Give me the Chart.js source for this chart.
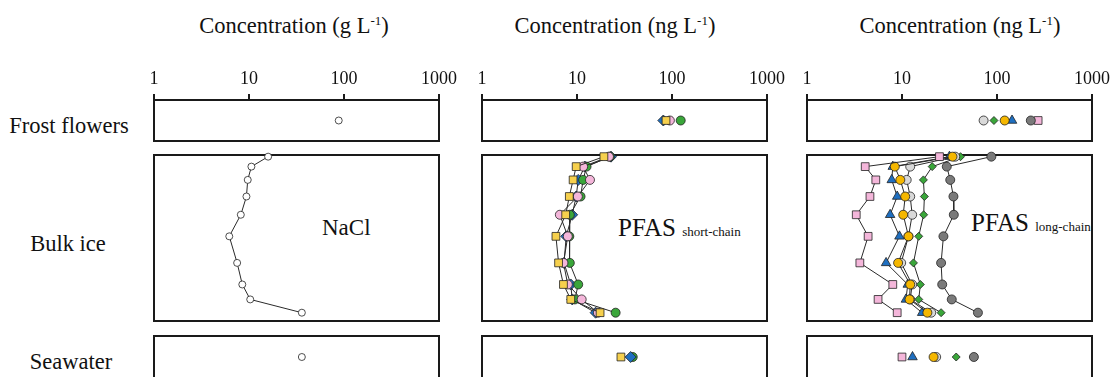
<!DOCTYPE html>
<html>
<head>
<meta charset="utf-8">
<script src="https://cdn.jsdelivr.net/npm/chart.js@4.4.0/dist/chart.umd.min.js"></script>
<style>
  body { margin: 0; width: 1110px; height: 377px; overflow: hidden; position: relative; background: #fff;
         font-family: "Liberation Serif", "DejaVu Serif", serif; color: #111; }
  canvas { position: absolute; }
  .txt { position: absolute; white-space: nowrap; line-height: 1; transform: translate(-50%, -50%); }
  .title { font-size: 22.5px; }
  .row { font-size: 22.5px; }
  .tag { position: absolute; white-space: nowrap; line-height: 1; font-size: 25px; }
  .tag small { font-size: 13px; }
  sup { font-size: 13px; vertical-align: 8px; line-height: 0; }
</style>
</head>
<body>
<div class="txt title" style="left:294px;top:26px">Concentration (g L<sup>-1</sup>)</div>
<div class="txt title" style="left:615px;top:26px">Concentration (ng L<sup>-1</sup>)</div>
<div class="txt title" style="left:960px;top:26px">Concentration (ng L<sup>-1</sup>)</div>

<div class="txt row" style="left:69px;top:126px">Frost flowers</div>
<div class="txt row" style="left:68px;top:244px">Bulk ice</div>
<div class="txt row" style="left:71px;top:362px">Seawater</div>

<div class="tag" style="left:322px;top:216px;font-size:23px">NaCl</div>
<div class="tag" style="left:618px;top:215px">PFAS <small>short-chain</small></div>
<div class="tag" style="left:971px;top:210px">PFAS <small>long-chain</small></div>

<script>
// relative depth in the ice core (hidden y axis), top to bottom
const depthPct = [1, 7, 15, 25, 36, 49, 65, 78, 87, 95];
const axisTicks = [1, 10, 100, 1000];

// NaCl (g/L)
const naclFrost = [88];
const naclBulk = [15.9, 10.6, 9.7, 9.4, 8.2, 6.2, 7.5, 8.5, 10.3, 36];
const naclSea = [36];

// PFAS short-chain (ng/L)
const scYellowBulk = [19.2, 9.8, 9.1, 8.3, 7.6, 6.0, 6.4, 7.2, 8.6, 17.5];
const scPinkBulk   = [21.7, 11.6, 13.7, 10.2, 6.6, 8.0, 7.2, 8.0, 11.2, 16.6];
const scGreenBulk  = [22.2, 12.6, 11.6, 10.9, 8.4, 8.3, 8.4, 10.3, 9.5, 25.5];
const scBlueBulk   = [22.8, 12.1, 10.3, 9.8, 8.9, 7.7, 7.3, 8.6, 8.9, 15.7];
const scFrost = { yellow: 86.5, pink: 95, green: 123.5, blue: 81 };
const scSea   = { yellow: 29, blue: 36.7, green: 38.6 };

// PFAS long-chain (ng/L)
const lcPinkBulk   = [24.8, 4.1, 5.3, 4.6, 3.3, 4.4, 3.6, 8.0, 5.6, 8.9];
const lcBlueBulk   = [31.6, 8.0, 7.8, 8.9, 7.5, 9.4, 6.8, 11.5, 11.0, 16.3];
const lcOrangeBulk = [34, 8.4, 9.6, 10.8, 10.3, 11.7, 9.1, 12.2, 12.0, 18.5];
const lcLightBulk  = [36.3, 12.2, 11.2, 12.2, 12.8, 11.7, 9.8, 12.8, 12.2, 20.3];
const lcGreenBulk  = [41.3, 20.8, 16.8, 17.2, 16.9, 15.0, 13.2, 15.6, 15.0, 25.8];
const lcDarkBulk   = [87.2, 29.6, 32.2, 34.8, 35.1, 27.3, 25.8, 26.5, 33.4, 63];
const lcFrost = { light: 72.3, green: 92.9, orange: 120.5, blue: 144, dark: 227, pink: 271 };
const lcSea   = { pink: 10.0, blue: 12.9, orange: 21.5, light: 22.9, green: 37.2, dark: 57.1 };

// marker styles
const styles = {
  nacl:   { color: '#ffffff', shape: 'circle', r: 3.5 },
  yellow: { color: '#F6D04D', shape: 'rect', r: 5.5 },
  pink:   { color: '#F4B6DA', shape: 'circle', r: 4.5 },
  pinkSq: { color: '#F4B6DA', shape: 'rect', r: 5.5 },
  green:  { color: '#3AA63A', shape: 'circle', r: 4.5 },
  greenD: { color: '#3AA63A', shape: 'rectRot', r: 4 },
  blue:   { color: '#1F6FC0', shape: 'rectRot', r: 5.5 },
  blueT:  { color: '#1F6FC0', shape: 'triangle', r: 5.5 },
  orange: { color: '#F5B700', shape: 'circle', r: 4.5 },
  light:  { color: '#D9D9D9', shape: 'circle', r: 4.5 },
  dark:   { color: '#7A7A7A', shape: 'circle', r: 4.5 }
};

const colLefts = [154, 482, 807];
const boxW = 285;
const PAD = 30;

const framePlugin = {
  id: 'frame',
  beforeDatasetsDraw(chart) {
    const { ctx, chartArea: a } = chart;
    ctx.save();
    ctx.lineWidth = 2;
    ctx.strokeStyle = '#1a1a1a';
    ctx.strokeRect(a.left, a.top, a.right - a.left, a.bottom - a.top);
    ctx.restore();
  }
};

function ds(st, data, line) {
  const s = styles[st];
  return {
    data: data,
    showLine: line,
    borderColor: '#2a2a2a',
    borderWidth: 1,
    pointStyle: s.shape,
    pointRadius: s.r,
    pointBackgroundColor: s.color,
    pointBorderColor: '#222',
    pointBorderWidth: 0.8,
    clip: false
  };
}

function profile(vals) {
  return depthPct.map((d, i) => ({ x: vals[i], y: d }));
}
function single(v) {
  return [{ x: v, y: 0.5 }];
}

function makePanel(col, top, height, withAxis, reverseDepth, datasets) {
  const c = document.createElement('canvas');
  c.width = boxW + 2 * PAD;
  c.height = height;
  c.style.left = (colLefts[col] - PAD) + 'px';
  c.style.top = top + 'px';
  document.body.appendChild(c);
  new Chart(c.getContext('2d'), {
    type: 'scatter',
    data: { datasets: datasets },
    options: {
      responsive: false,
      animation: false,
      events: [],
      layout: { autoPadding: false, padding: { left: PAD, right: PAD, top: 10, bottom: 10 } },
      plugins: { legend: { display: false }, tooltip: { enabled: false } },
      scales: {
        x: {
          type: 'logarithmic',
          position: 'top',
          display: withAxis,
          min: 1,
          max: 1000,
          afterBuildTicks: s => { s.ticks = axisTicks.map(v => ({ value: v })); },
          afterFit: s => { s.height = withAxis ? 40 : 0; },
          grid: { drawOnChartArea: false, drawTicks: true, tickLength: 6, color: '#1a1a1a', lineWidth: 2 },
          border: { display: false },
          ticks: {
            autoSkip: false, maxRotation: 0, padding: 4, color: '#111',
            font: { family: 'Liberation Serif', size: 18 },
            callback: v => String(v)
          }
        },
        y: reverseDepth
          ? { display: false, min: 0, max: 100, reverse: true }
          : { display: false, min: 0, max: 1 }
      }
    },
    plugins: [framePlugin]
  });
}

// column 1: NaCl
makePanel(0, 50, 101, true, false, [ds('nacl', single(naclFrost[0]), false)]);
makePanel(0, 145, 186, false, true, [ds('nacl', profile(naclBulk), true)]);
makePanel(0, 326, 62, false, false, [ds('nacl', single(naclSea[0]), false)]);

// column 2: PFAS short-chain
makePanel(1, 50, 101, true, false, [
  ds('yellow', single(scFrost.yellow), false),
  ds('pink', single(scFrost.pink), false),
  ds('green', single(scFrost.green), false),
  ds('blue', single(scFrost.blue), false)
]);
makePanel(1, 145, 186, false, true, [
  ds('yellow', profile(scYellowBulk), true),
  ds('pink', profile(scPinkBulk), true),
  ds('green', profile(scGreenBulk), true),
  ds('blue', profile(scBlueBulk), true)
]);
makePanel(1, 326, 62, false, false, [
  ds('yellow', single(scSea.yellow), false),
  ds('blue', single(scSea.blue), false),
  ds('green', single(scSea.green), false)
]);

// column 3: PFAS long-chain
makePanel(2, 50, 101, true, false, [
  ds('light', single(lcFrost.light), false),
  ds('greenD', single(lcFrost.green), false),
  ds('orange', single(lcFrost.orange), false),
  ds('blueT', single(lcFrost.blue), false),
  ds('dark', single(lcFrost.dark), false),
  ds('pinkSq', single(lcFrost.pink), false)
]);
makePanel(2, 145, 186, false, true, [
  ds('pinkSq', profile(lcPinkBulk), true),
  ds('orange', profile(lcOrangeBulk), true),
  ds('light', profile(lcLightBulk), true),
  ds('blueT', profile(lcBlueBulk), true),
  ds('greenD', profile(lcGreenBulk), true),
  ds('dark', profile(lcDarkBulk), true)
]);
makePanel(2, 326, 62, false, false, [
  ds('pinkSq', single(lcSea.pink), false),
  ds('blueT', single(lcSea.blue), false),
  ds('orange', single(lcSea.orange), false),
  ds('light', single(lcSea.light), false),
  ds('greenD', single(lcSea.green), false),
  ds('dark', single(lcSea.dark), false)
]);
</script>
</body>
</html>
